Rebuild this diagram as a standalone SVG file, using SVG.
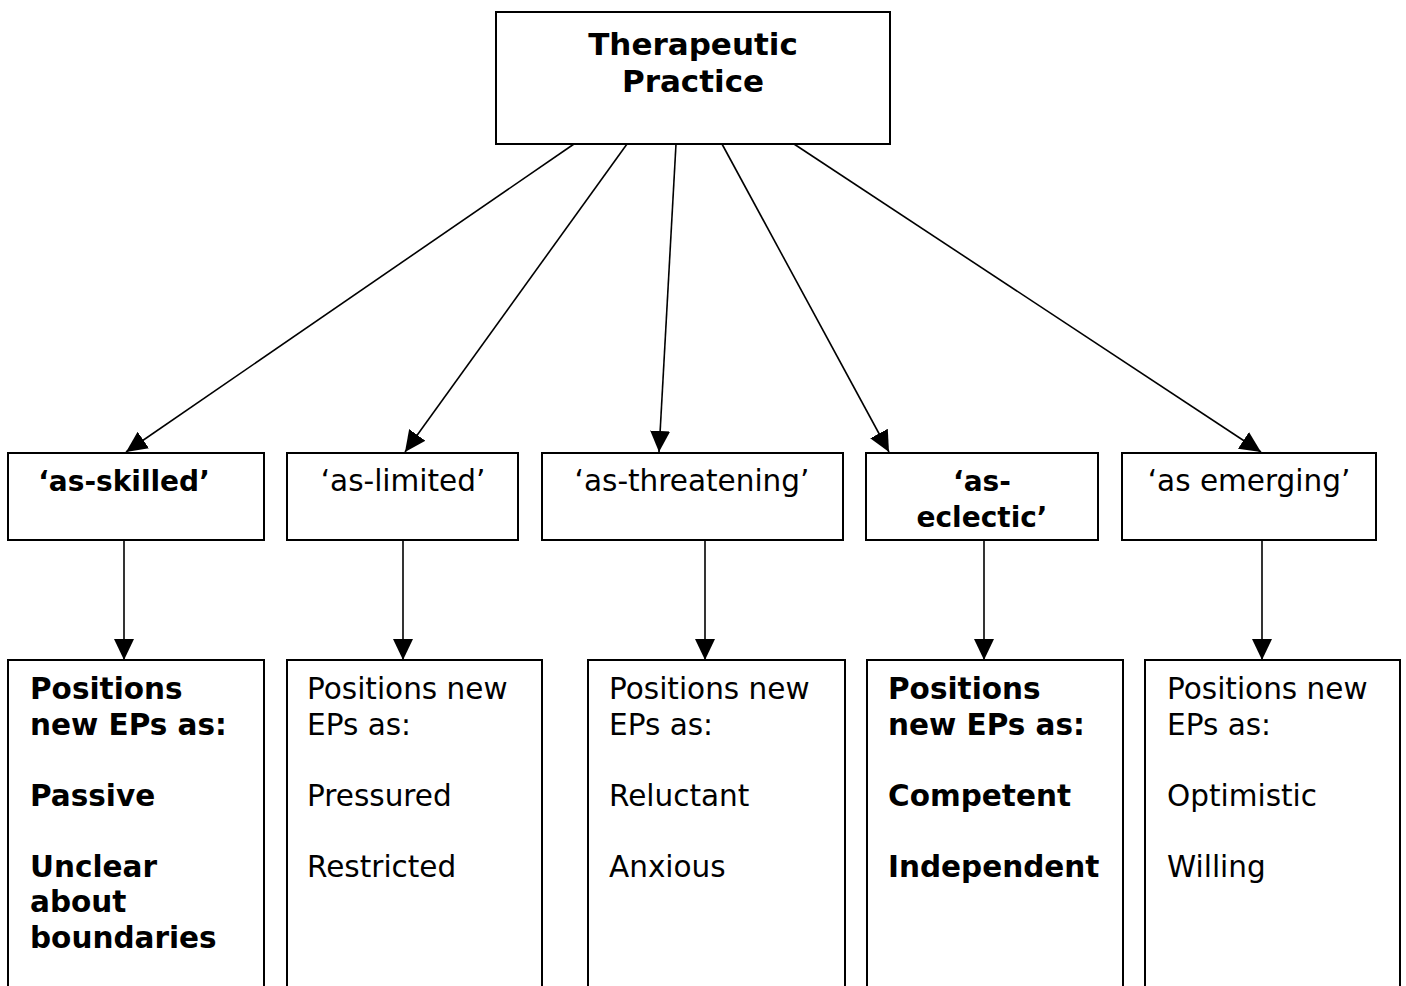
<svg xmlns="http://www.w3.org/2000/svg" width="1406" height="986" viewBox="0 0 1406 986">
  <style>
    .box { fill: #ffffff; stroke: #000000; stroke-width: 2; }
    .edge { fill: none; stroke: #000000; stroke-width: 1.6; marker-end: url(#arrow); }
    text { font-family: "DejaVu Sans", Verdana, sans-serif; font-size: 29.5px; fill: #000000; }
    .title { font-size: 31px; font-weight: bold; text-anchor: middle; }
    .mid { text-anchor: middle; }
    .b { font-weight: bold; }
    .q { font-size: 28px; }
  </style>
  <defs>
    <marker id="arrow" markerUnits="userSpaceOnUse" markerWidth="22" markerHeight="22" viewBox="0 0 22 22" refX="21" refY="11" orient="auto">
      <path d="M0,1 L21,11 L0,21 Z" fill="#000000"/>
    </marker>
  </defs>

  <rect width="1406" height="986" fill="#ffffff"/>

  <!-- connectors -->
  <g id="connectors">
    <line class="edge" x1="574" y1="144" x2="126" y2="452"/>
    <line class="edge" x1="627" y1="144" x2="405" y2="452"/>
    <line class="edge" x1="676" y1="144" x2="659" y2="452"/>
    <line class="edge" x1="722" y1="144" x2="889" y2="452"/>
    <line class="edge" x1="794" y1="144" x2="1261" y2="452"/>
    <line class="edge" x1="124" y1="540" x2="124" y2="660"/>
    <line class="edge" x1="403" y1="540" x2="403" y2="660"/>
    <line class="edge" x1="705" y1="540" x2="705" y2="660"/>
    <line class="edge" x1="984" y1="540" x2="984" y2="660"/>
    <line class="edge" x1="1262" y1="540" x2="1262" y2="660"/>
  </g>

  <!-- root -->
  <g id="therapeutic-practice">
    <rect class="box" x="496" y="12" width="394" height="132"/>
    <text class="title" x="693" y="55">Therapeutic</text>
    <text class="title" x="693" y="92">Practice</text>
  </g>

  <!-- second row -->
  <g id="as-skilled">
    <rect class="box" x="8" y="453" width="256" height="87"/>
    <text class="mid b q" x="124" y="491">‘as-skilled’</text>
  </g>
  <g id="as-limited">
    <rect class="box" x="287" y="453" width="231" height="87"/>
    <text class="mid" x="403" y="491">‘as-limited’</text>
  </g>
  <g id="as-threatening">
    <rect class="box" x="542" y="453" width="301" height="87"/>
    <text class="mid" x="692" y="491">‘as-threatening’</text>
  </g>
  <g id="as-eclectic">
    <rect class="box" x="866" y="453" width="232" height="87"/>
    <text class="mid b q" x="982" y="491">‘as-</text>
    <text class="mid b q" x="982" y="527">eclectic’</text>
  </g>
  <g id="as-emerging">
    <rect class="box" x="1122" y="453" width="254" height="87"/>
    <text class="mid" x="1249" y="491">‘as emerging’</text>
  </g>

  <!-- third row -->
  <g id="positions-skilled">
    <rect class="box" x="8" y="660" width="256" height="340"/>
    <text class="b" x="30" y="699">Positions</text>
    <text class="b" x="30" y="734.5">new EPs as:</text>
    <text class="b" x="30" y="805.5">Passive</text>
    <text class="b" x="30" y="876.5">Unclear</text>
    <text class="b" x="30" y="912">about</text>
    <text class="b" x="30" y="947.5">boundaries</text>
  </g>
  <g id="positions-limited">
    <rect class="box" x="287" y="660" width="255" height="340"/>
    <text x="307" y="699">Positions new</text>
    <text x="307" y="734.5">EPs as:</text>
    <text x="307" y="805.5">Pressured</text>
    <text x="307" y="876.5">Restricted</text>
  </g>
  <g id="positions-threatening">
    <rect class="box" x="588" y="660" width="257" height="340"/>
    <text x="609" y="699">Positions new</text>
    <text x="609" y="734.5">EPs as:</text>
    <text x="609" y="805.5">Reluctant</text>
    <text x="609" y="876.5">Anxious</text>
  </g>
  <g id="positions-eclectic">
    <rect class="box" x="867" y="660" width="256" height="340"/>
    <text class="b" x="888" y="699">Positions</text>
    <text class="b" x="888" y="734.5">new EPs as:</text>
    <text class="b" x="888" y="805.5">Competent</text>
    <text class="b" x="888" y="876.5">Independent</text>
  </g>
  <g id="positions-emerging">
    <rect class="box" x="1145" y="660" width="255" height="340"/>
    <text x="1167" y="699">Positions new</text>
    <text x="1167" y="734.5">EPs as:</text>
    <text x="1167" y="805.5">Optimistic</text>
    <text x="1167" y="876.5">Willing</text>
  </g>
</svg>
